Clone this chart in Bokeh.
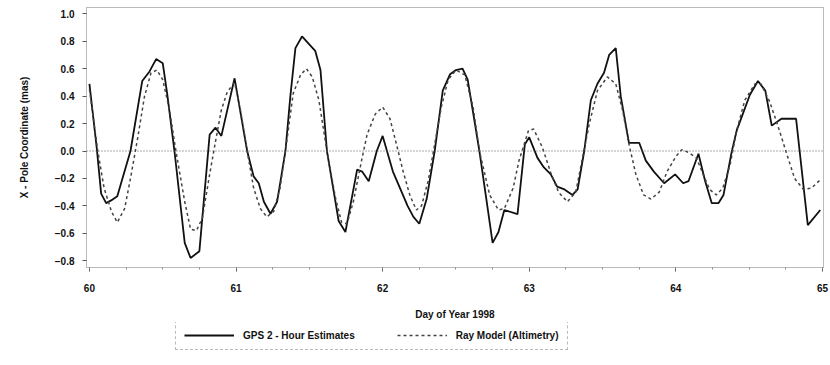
from bokeh.plotting import figure
from bokeh.layouts import column
from bokeh.models import (Range1d, FixedTicker, CustomJSTickFormatter, Span,
                          Legend, LegendItem)
from bokeh.embed import file_html
from bokeh.resources import INLINE

# GPS 2-hour estimates (day of year 1998, X-pole in mas)
gps_day = [60.0, 60.05, 60.08, 60.114, 60.148, 60.19, 60.28, 60.36, 60.41, 60.455,
           60.50, 60.53, 60.58, 60.65, 60.69, 60.75, 60.82, 60.86, 60.90, 60.99,
           61.076, 61.12, 61.155, 61.19, 61.235, 61.28, 61.337, 61.37, 61.405, 61.45,
           61.54, 61.576, 61.62, 61.667, 61.70, 61.746, 61.826, 61.86, 61.905, 61.96,
           62.0, 62.07, 62.13, 62.17, 62.21, 62.25, 62.30, 62.355, 62.41, 62.46,
           62.50, 62.545, 62.58, 62.66, 62.71, 62.75, 62.79, 62.83, 62.92, 62.97,
           63.0, 63.056, 63.10, 63.147, 63.19, 63.24, 63.295, 63.33, 63.375, 63.42,
           63.465, 63.51, 63.545, 63.59, 63.624, 63.68, 63.75, 63.795, 63.85, 63.92,
           63.995, 64.05, 64.086, 64.154, 64.20, 64.245, 64.29, 64.325, 64.38, 64.415,
           64.46, 64.505, 64.56, 64.61, 64.654, 64.72, 64.82, 64.90, 64.985]
gps_x = [0.49, 0.02, -0.31, -0.38, -0.36, -0.33, 0.0, 0.51, 0.58, 0.67,
         0.64, 0.42, 0.0, -0.67, -0.78, -0.73, 0.12, 0.17, 0.11, 0.53,
         0.0, -0.185, -0.235, -0.37, -0.457, -0.37, 0.0, 0.395, 0.75, 0.835,
         0.73, 0.59, 0.0, -0.30, -0.51, -0.59, -0.136, -0.15, -0.22, 0.0,
         0.11, -0.15, -0.30, -0.40, -0.48, -0.53, -0.35, 0.0, 0.44, 0.56,
         0.59, 0.60, 0.52, 0.0, -0.37, -0.67, -0.59, -0.43, -0.46, 0.05,
         0.10, -0.05, -0.12, -0.17, -0.26, -0.28, -0.32, -0.28, 0.0, 0.37,
         0.49, 0.57, 0.70, 0.75, 0.40, 0.06, 0.06, -0.07, -0.15, -0.235,
         -0.17, -0.235, -0.22, -0.02, -0.22, -0.38, -0.38, -0.32, -0.01, 0.15,
         0.28, 0.41, 0.51, 0.44, 0.185, 0.235, 0.235, -0.54, -0.43]

# Ray model (altimetry)
ray_day = [60.0, 60.057, 60.10, 60.15, 60.19, 60.24, 60.28, 60.33, 60.375, 60.42,
           60.46, 60.50, 60.546, 60.59, 60.65, 60.69, 60.73, 60.77, 60.82, 60.86,
           60.90, 60.94, 60.99, 61.03, 61.076, 61.12, 61.166, 61.21, 61.257, 61.30,
           61.346, 61.39, 61.44, 61.48, 61.52, 61.565, 61.62, 61.68, 61.72, 61.757,
           61.80, 61.86, 61.894, 61.95, 62.0, 62.05, 62.094, 62.14, 62.185, 62.23,
           62.265, 62.31, 62.355, 62.40, 62.447, 62.50, 62.56, 62.617, 62.66, 62.73,
           62.79, 62.83, 62.89, 62.93, 62.995, 63.03, 63.09, 63.147, 63.20, 63.26,
           63.317, 63.363, 63.41, 63.465, 63.533, 63.59, 63.636, 63.68, 63.727, 63.78,
           63.83, 63.886, 63.94, 64.0, 64.04, 64.086, 64.14, 64.186, 64.23, 64.276,
           64.32, 64.37, 64.415, 64.47, 64.54, 64.58, 64.64, 64.70, 64.756, 64.81,
           64.87, 64.925, 64.985]
ray_x = [0.45, 0.0, -0.27, -0.44, -0.52, -0.42, -0.20, 0.10, 0.395, 0.57,
         0.59, 0.52, 0.30, 0.0, -0.37, -0.57, -0.58, -0.49, -0.17, 0.07,
         0.30, 0.43, 0.50, 0.30, 0.0, -0.27, -0.42, -0.48, -0.44, -0.27,
         0.07, 0.42, 0.555, 0.60, 0.54, 0.37, 0.0, -0.35, -0.52, -0.53,
         -0.37, -0.05, 0.12, 0.27, 0.32, 0.235, 0.05, -0.15, -0.32, -0.43,
         -0.40, -0.22, 0.05, 0.32, 0.52, 0.59, 0.555, 0.32, 0.0, -0.32,
         -0.43, -0.42, -0.27, -0.07, 0.15, 0.16, 0.025, -0.16, -0.30, -0.37,
         -0.30, -0.05, 0.20, 0.44, 0.54, 0.49, 0.30, 0.05, -0.17, -0.32,
         -0.35, -0.30, -0.15, -0.04, 0.01, -0.01, -0.05, -0.17, -0.28, -0.32,
         -0.27, -0.10, 0.15, 0.37, 0.49, 0.49, 0.36, 0.17, -0.02, -0.20,
         -0.28, -0.27, -0.21]

series_labels = ["GPS 2 - Hour Estimates", "Ray Model (Altimetry)"]
x_ticks = [60, 61, 62, 63, 64, 65]
y_ticks = [-0.8, -0.6, -0.4, -0.2, 0.0, 0.2, 0.4, 0.6, 0.8, 1.0]

FONT = "Liberation Sans"
GPS_STYLE = dict(line_color="#111111", line_width=1.8)
RAY_STYLE = dict(line_color="#444444", line_width=1.5, line_dash="3 3")

p = figure(width=830, height=322, output_backend="svg", toolbar_location=None,
           x_range=Range1d(59.98, 65.007), y_range=Range1d(-0.849, 1.046),
           min_border_left=86, min_border_right=7, min_border_top=7,
           min_border_bottom=10)
p.background_fill_color = "white"
p.border_fill_color = "white"
p.grid.visible = False
p.outline_line_color = "#777777"
p.outline_line_dash = "1 1"
p.outline_line_width = 1

p.add_layout(Span(location=0, dimension="width", line_color="#555555",
                  line_dash="1 2", line_width=1))

p.line(gps_day, gps_x, **GPS_STYLE)
p.line(ray_day, ray_x, **RAY_STYLE)

xa = p.xaxis[0]
xa.ticker = FixedTicker(ticks=x_ticks,
                        minor_ticks=[60 + i * 0.25 for i in range(21)])
xa.formatter = CustomJSTickFormatter(code="return tick.toFixed(0);")
xa.axis_label = "Day of Year 1998"
ya = p.yaxis[0]
ya.ticker = FixedTicker(ticks=y_ticks)
ya.formatter = CustomJSTickFormatter(
    code="return tick < -1e-9 ? '\u2212' + Math.abs(tick).toFixed(1) : Math.abs(tick).toFixed(1);")
ya.axis_label = "X - Pole Coordinate (mas)"

for ax in (xa, ya):
    ax.axis_line_color = None
    ax.major_tick_line_color = "#555555"
    ax.minor_tick_line_color = "#888888"
    ax.major_tick_out = 4
    ax.major_tick_in = 0
    ax.minor_tick_out = 2
    ax.minor_tick_in = 0
    ax.major_label_text_font = FONT
    ax.major_label_text_font_style = "bold"
    ax.major_label_text_font_size = "10px"
    ax.major_label_text_color = "#111111"
    ax.axis_label_text_font = FONT
    ax.axis_label_text_font_style = "bold"
    ax.axis_label_text_font_size = "10px"
    ax.axis_label_text_color = "#111111"
ya.minor_tick_line_color = None
xa.major_label_standoff = 12
xa.axis_label_standoff = 14
ya.major_label_standoff = 8
ya.axis_label_standoff = 22

# legend strip below the chart (its frame is aligned with the chart's frame)
lg = figure(width=830, height=43, output_backend="svg", toolbar_location=None,
            x_range=Range1d(0, 1), y_range=Range1d(0, 1),
            min_border=0, x_axis_location=None, y_axis_location=None)
lg.outline_line_color = None
lg.grid.visible = False
lg.border_fill_color = "white"
# keys for the legend only: their points lie outside the strip's visible range
lr1 = lg.line(gps_day[:2], gps_x[:2], **GPS_STYLE)
lr2 = lg.line(ray_day[:2], ray_x[:2], **RAY_STYLE)
legend = Legend(items=[LegendItem(label=series_labels[0], renderers=[lr1]),
                       LegendItem(label=series_labels[1], renderers=[lr2])],
                orientation="horizontal", location=(89, 15))
legend.label_text_font = FONT
legend.label_text_font_style = "bold"
legend.label_text_font_size = "10px"
legend.label_text_color = "#111111"
legend.glyph_width = 50
legend.glyph_height = 12
legend.label_standoff = 9
legend.spacing = 42
legend.margin = 0
legend.label_height = 12
legend.border_line_color = "#777777"
legend.border_line_dash = "1 1"
legend.border_line_width = 1
legend.background_fill_alpha = 0
legend.padding = 8
lg.add_layout(legend, "center")

layout = column(p, lg, spacing=0)
open("out.html", "w").write(file_html(layout, INLINE))
